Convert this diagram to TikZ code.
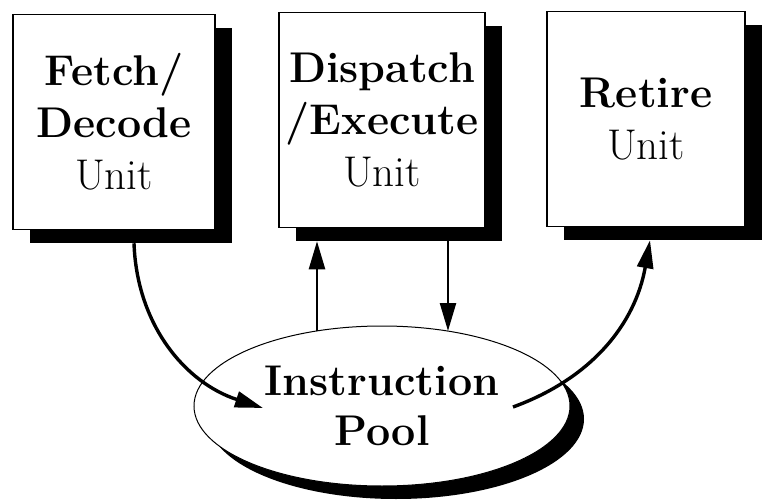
\documentclass[tikz,border=0pt]{standalone}
\usetikzlibrary{shapes.geometric,shadows,arrows.meta,calc}
\tikzset{
  unitbox/.style={draw, fill=white, line width=0.75pt, minimum width=101pt, minimum height=107.5pt,
    align=center, font=\fontsize{21.5}{26}\selectfont,
    drop shadow={shadow xshift=8.5pt, shadow yshift=-6.5pt, fill=black, opacity=1}},
  poolshape/.style={ellipse, draw, fill=white, line width=0.5pt, minimum width=188pt, minimum height=80pt,
    inner sep=0pt, align=center, font=\fontsize{21.5}{25}\selectfont\bfseries,
    drop shadow={shadow xshift=7pt, shadow yshift=-6.5pt, fill=black, opacity=1}},
  flow/.style={line width=1.7pt, -{Triangle[length=14pt,width=8pt]}},
  link/.style={line width=1.2pt, -{Triangle[length=14pt,width=8pt]}}
}
\begin{document}
\begin{tikzpicture}[x=0.5pt, y=0.5pt]
\useasboundingbox (0,0) rectangle (762,-504);
    \node [unitbox] (fetch) at (114,-122) {\textbf{Fetch/}\\\textbf{Decode}\\Unit};
    \node [unitbox] (dispatch) at (382,-120) {\textbf{Dispatch}\\\textbf{/Execute}\\Unit};
    \node [unitbox, minimum width=99pt] (retire) at (646,-119) {\textbf{Retire}\\Unit};
    \node [poolshape] (pool) at (382,-406) {Instruction\\Pool};
    % connectors
    \draw [flow] ($(fetch.south)+(20,-13)$) to[out=-88, in=162] ($(pool.center)+(-119,-2)$);
    \draw [link] ($(pool.center)+(-65,75)$) -- ($(dispatch.south)+(-65,-13)$);
    \draw [link] ($(dispatch.south)+(66,-12)$) -- ($(pool.center)+(66,75)$);
    \draw [flow] ($(pool.center)+(131,-1)$) to[out=20, in=-100] ($(retire.south)+(4,-13)$);
\end{tikzpicture}
\end{document}
